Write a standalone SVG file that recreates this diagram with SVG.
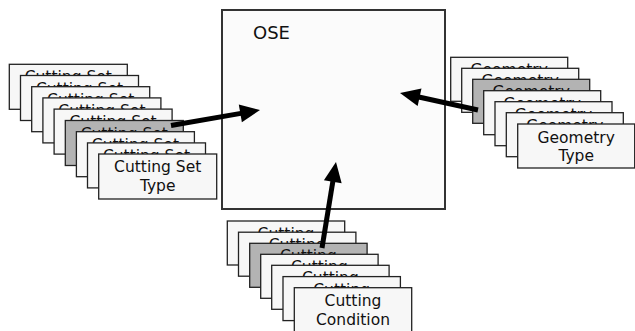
<svg xmlns="http://www.w3.org/2000/svg" width="635" height="331" viewBox="0 0 635 331">
<style>
.card{fill:#f7f7f7;stroke:#222;stroke-width:1.3}
.gray{fill:#b3b3b3;stroke:#222;stroke-width:1.3}
.t{font-family:"DejaVu Sans",Verdana,sans-serif;font-size:15.5px;fill:#111;text-anchor:middle}
.conn{stroke:#000;stroke-width:5;fill:none}
</style>
<defs>
<marker id="ah" markerUnits="userSpaceOnUse" markerWidth="21" markerHeight="18" refX="2" refY="9" orient="auto" overflow="visible">
<path d="M0,0 L20,9 L0,18 Z" fill="#000"/>
</marker>
</defs>
<rect width="635" height="331" fill="#fff"/>
<g id="ose">
<rect x="222" y="10" width="223" height="199" fill="#fbfbfb" stroke="#333" stroke-width="2"/>
<text x="253" y="39" font-family="DejaVu Sans,Verdana,sans-serif" font-size="18" fill="#111">OSE</text>
</g>
<g id="cutting-set-stack">
<rect class="card" x="9.3" y="64.3" width="118" height="45"/><text class="t" x="68.3" y="82.3">Cutting Set</text>
<rect class="card" x="20.5" y="75.5" width="118" height="45"/><text class="t" x="79.5" y="93.5">Cutting Set</text>
<rect class="card" x="31.7" y="86.7" width="118" height="45"/><text class="t" x="90.7" y="104.7">Cutting Set</text>
<rect class="card" x="42.9" y="97.9" width="118" height="45"/><text class="t" x="101.9" y="115.9">Cutting Set</text>
<rect class="card" x="54.1" y="109.1" width="118" height="45"/><text class="t" x="113.1" y="127.1">Cutting Set</text>
<rect class="gray" x="65.3" y="120.5" width="118" height="45"/><text class="t" x="124.3" y="138.5">Cutting Set</text>
<rect class="card" x="76.4" y="131.7" width="118" height="45"/><text class="t" x="135.4" y="149.7">Cutting Set</text>
<rect class="card" x="87.5" y="142.9" width="118" height="45"/><text class="t" x="146.5" y="160.9">Cutting Set</text>
<rect class="card" x="98.7" y="154" width="118" height="45"/><text class="t" x="157.7" y="172">Cutting Set</text><text class="t" x="157.7" y="191">Type</text>
</g>
<g id="geometry-stack">
<rect class="card" x="450.7" y="57.3" width="117" height="44"/><text class="t" x="509.2" y="75.3">Geometry</text>
<rect class="card" x="461.7" y="68.3" width="117" height="44"/><text class="t" x="520.2" y="86.3">Geometry</text>
<rect class="gray" x="472.7" y="79.3" width="117" height="44"/><text class="t" x="531.2" y="97.3">Geometry</text>
<rect class="card" x="483.7" y="90.7" width="117" height="44"/><text class="t" x="542.2" y="108.7">Geometry</text>
<rect class="card" x="495" y="101.7" width="117" height="44"/><text class="t" x="553.5" y="119.7">Geometry</text>
<rect class="card" x="506.3" y="112.7" width="117" height="44"/><text class="t" x="564.8" y="130.7">Geometry</text>
<rect class="card" x="517.7" y="124" width="117" height="44"/><text class="t" x="576.2" y="143">Geometry</text><text class="t" x="576.2" y="161">Type</text>
</g>
<g id="cutting-condition-stack">
<rect class="card" x="227.3" y="221" width="117.4" height="44"/><text class="t" x="286" y="239">Cutting</text>
<rect class="card" x="238.5" y="232.2" width="117.4" height="44"/><text class="t" x="297.2" y="250.2">Cutting</text>
<rect class="gray" x="249.7" y="243.3" width="117.4" height="44"/><text class="t" x="308.4" y="261.3">Cutting</text>
<rect class="card" x="260.7" y="254.3" width="117.4" height="44"/><text class="t" x="319.4" y="272.3">Cutting</text>
<rect class="card" x="271.7" y="265.3" width="117.4" height="44"/><text class="t" x="330.4" y="283.3">Cutting</text>
<rect class="card" x="283" y="276.6" width="117.4" height="44"/><text class="t" x="341.7" y="294.6">Cutting</text>
<rect class="card" x="294.3" y="287.7" width="117.4" height="44"/><text class="t" x="353" y="305.7">Cutting</text><text class="t" x="353" y="324.7">Condition</text>
</g>
<g id="connectors">
<line class="conn" x1="171" y1="125.5" x2="242.3" y2="113.1" marker-end="url(#ah)"/>
<line class="conn" x1="478" y1="110" x2="417.6" y2="96.8" marker-end="url(#ah)"/>
<line class="conn" x1="322" y1="248" x2="333.1" y2="179.8" marker-end="url(#ah)"/>
</g>
</svg>
